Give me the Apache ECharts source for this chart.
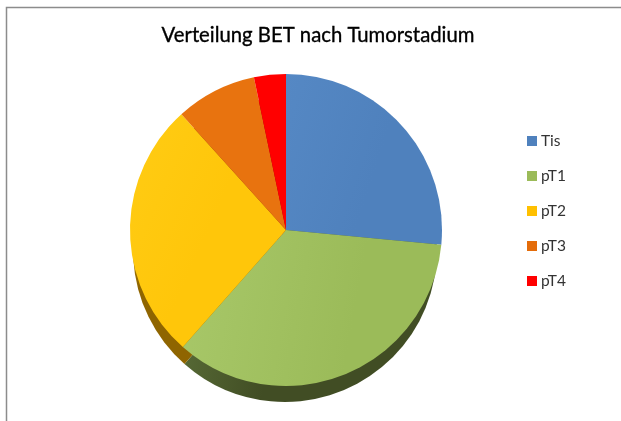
<!DOCTYPE html>
<html><head><meta charset="utf-8">
<style>html,body{margin:0;padding:0;background:#fff}#c{width:621px;height:421px}</style>
<script src="https://cdn.jsdelivr.net/npm/echarts@6/dist/echarts.min.js"></script>
</head><body><div id="c"></div>
<script>
const titleText = 'Verteilung BET nach Tumorstadium';
const categories = ['Tis', 'pT1', 'pT2', 'pT3', 'pT4'];
const values = [26.5, 35, 26.8, 8.4, 3.3];
const legendColors = ['#4f81bd', '#9bbb59', '#ffc000', '#e46c0a', '#ff0000'];
const faceStart = ['#5588c4', '#a8c869', '#ffcc14', '#e8730f', '#ff0000'];
const faceEnd = ['#4f81bd', '#9bbb59', '#ffc60a', '#e8730f', '#ff0000'];
const sideStart = ['#2a4566', '#5a6e38', '#d0a000', '#8a4306', '#990000'];
const sideEnd = ['#2a4566', '#414d24', '#8f6500', '#8a4306', '#990000'];

const chart = echarts.init(document.getElementById('c'), null, {renderer: 'canvas'});
const grad = (a, b, stop) => new echarts.graphic.LinearGradient(0, 0, 1, 0.3, [
  {offset: 0, color: a}, {offset: stop, color: b}, {offset: 1, color: b}]);
const toData = (s, e, stop) => categories.map((n, i) => ({name: n, value: values[i],
  itemStyle: {color: grad(s[i], e[i], stop)}}));
const pieBase = {type: 'pie', clockwise: true, startAngle: 90, silent: true,
  label: {show: false}, labelLine: {show: false}, animation: false, itemStyle: {borderWidth: 0}};
chart.setOption({
  animation: false,
  backgroundColor: '#fff',
  color: legendColors,
  title: {text: titleText, left: 318, top: 25, textAlign: 'center', padding: 0,
    textStyle: {fontFamily: 'Lato', fontSize: 20.3, fontWeight: 'normal', color: '#000',
      textBorderColor: '#000', textBorderWidth: 0.35}},
  legend: {orient: 'vertical', left: 527, top: 133, padding: 0, itemWidth: 10, itemHeight: 10, itemGap: 19,
    icon: 'rect', data: categories.map((n, i) => ({name: n, itemStyle: {color: legendColors[i]}})),
    selectedMode: false,
    textStyle: {fontFamily: 'Lato', fontSize: 15.5, lineHeight: 14, color: '#333', padding: [0, 0, 0, -1]}},
  graphic: [{type: 'polyline', z: -1, shape: {points: [[6.5, 421], [6.5, 7.5], [621, 7.5]]},
    style: {stroke: '#8c8c8c', lineWidth: 1.5, fill: null}}],
  series: [
    Object.assign({}, pieBase, {name: 'Stadium', radius: 156, center: [286, 230], z: 3,
      data: toData(faceStart, faceEnd, 0.7)}),
    Object.assign({}, pieBase, {name: 'Seite', radius: 152, center: [285, 250], z: 2,
      data: toData(sideStart, sideEnd, 0.4)})
  ]
});
</script></body></html>
